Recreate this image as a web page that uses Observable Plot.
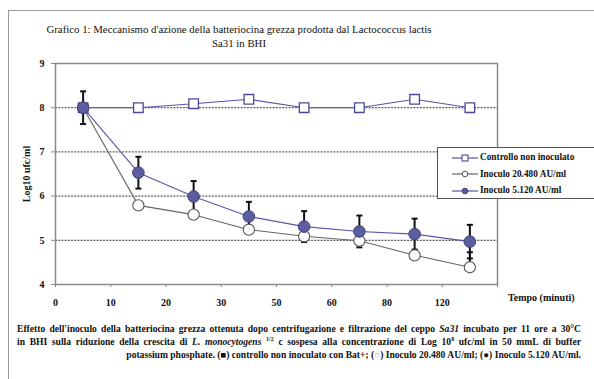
<!DOCTYPE html>
<html>
<head>
<meta charset="utf-8">
<script src="https://cdn.jsdelivr.net/npm/d3@7"></script>
<script src="https://cdn.jsdelivr.net/npm/@observablehq/plot@0.6"></script>
<style>
  html, body { margin: 0; padding: 0; background: #fff; }
  #wrap { position: relative; width: 594px; height: 379px; overflow: hidden; font-family: "Liberation Serif", "Times New Roman", Times, "DejaVu Serif", "Noto Serif", serif; color: #111; }
  #frame { position: absolute; left: 8px; top: 10px; width: 600px; height: 400px; border-left: 1.5px solid #999; border-top: 1.5px solid #999; }
  .title { position: absolute; left: 0; width: 478px; text-align: center; font-size: 10.8px; white-space: nowrap; }
  #chart { position: absolute; left: 0; top: 55px; }
  #xlabel { position: absolute; left: 508px; top: 292px; font-size: 10px; font-weight: bold; white-space: nowrap; }
  #legend { position: absolute; left: 437px; top: 147px; width: 160px; height: 50px; border: 1px solid #555; background: #fff; }
  .lrow { position: absolute; left: 14px; font-size: 9.3px; font-weight: bold; white-space: nowrap; height: 12px; line-height: 12px; }
  .lrow svg { vertical-align: middle; margin-right: 2px; }
  .cap { position: absolute; left: 17px; width: 564px; font-size: 9.6px; font-weight: bold; white-space: nowrap; line-height: 13px; }
  .just { text-align: justify; text-align-last: justify; white-space: normal; }
  .right { text-align: right; }
  sup { font-size: 6px; line-height: 0; vertical-align: 4px; }
</style>
</head>
<body>
<div id="wrap">
  <div id="frame"></div>
  <div class="title" style="top:23px">Grafico 1: Meccanismo d'azione della batteriocina grezza prodotta dal Lactococcus lactis</div>
  <div class="title" style="top:37px">Sa31 in BHI</div>
  <div id="chart"></div>
  <div id="xlabel">Tempo (minuti)</div>
  <div id="legend"></div>
  <div class="cap just" style="top:322px">Effetto dell'inoculo della batteriocina grezza ottenuta dopo centrifugazione e filtrazione del ceppo <i>Sa31</i> incubato per 11 ore a 30°C</div>
  <div class="cap just" style="top:335px">in BHI sulla riduzione della crescita di <i>L. monocytogens</i> <sup>1/2</sup> c sospesa alla concentrazione di Log 10<sup>8</sup> ufc/ml in 50 mmL di buffer</div>
  <div class="cap right" style="top:348px">potassium phosphate. (■) controllo non inoculato con Bat+; (<span style="color:#aaa">○</span>) Inoculo 20.480 AU/ml; (●) Inoculo 5.120 AU/ml.</div>
</div>
<script>
// Category tick labels (x axis, Tempo in minuti)
const xTickLabels = ["0", "10", "20", "30", "50", "60", "80", "120"];
// Log10 ufc/ml for each sampling point (one per category)
const controllo = [8.0, 8.0, 8.09, 8.19, 8.0, 8.0, 8.19, 8.0];
const inoculo20480 = [8.0, 5.79, 5.58, 5.24, 5.09, 4.99, 4.66, 4.39];
const inoculo5120 = [8.0, 6.53, 5.99, 5.54, 5.31, 5.20, 5.14, 4.97];
// error bars
const err5120 = [0.37, 0.36, 0.35, 0.33, 0.35, 0.36, 0.35, 0.38];
const err20480Plus = [0, 0, 0, 0, 0, 0, 0, 0.34];
const seriesNames = ["Controllo non inoculato", "Inoculo 20.480 AU/ml", "Inoculo 5.120 AU/ml"];
const yTicks = [4, 5, 6, 7, 8, 9];
const gridValues = [5, 6, 7, 8];

const serifStack = "'Liberation Serif', 'Times New Roman', Times, 'DejaVu Serif', 'Noto Serif', serif";
const blue = "#5656a6";
const dotFill = "#5b5d9e";
const gray = "#666";

const idx = d3.range(controllo.length);
const rows = idx.map(i => ({
  x: i + 0.5,
  controllo: controllo[i],
  a: inoculo20480[i],
  b: inoculo5120[i],
  eb: err5120[i],
  ea: err20480Plus[i]
}));
const errRows = [
  ...rows.map(r => ({x: r.x, y1: r.b - r.eb, y2: r.b + r.eb})),
  ...rows.filter(r => r.ea > 0).map(r => ({x: r.x, y1: r.a, y2: r.a + r.ea}))
];
const capRows = errRows.flatMap(e => [{x: e.x, y: e.y1}, {x: e.x, y: e.y2}]);
const capSymbol = {draw(ctx) { ctx.moveTo(-3, 0); ctx.lineTo(3, 0); }};

const chart = Plot.plot({
  width: 594,
  height: 265,
  marginTop: 8,
  marginBottom: 36,
  marginLeft: 55,
  marginRight: 97,
  style: {fontFamily: serifStack, fontWeight: "bold", fontSize: "10px", color: "#111", background: "transparent"},
  x: {domain: [0, xTickLabels.length], ticks: d3.range(xTickLabels.length + 1)},
  y: {domain: [4, 9], ticks: yTicks},
  marks: [
    Plot.ruleY(gridValues, {stroke: "#333", strokeDasharray: "2,1.2", strokeWidth: 1}),
    Plot.frame({stroke: "#8a8a8a", strokeWidth: 1.5}),
    Plot.axisX({ticks: d3.range(xTickLabels.length + 1), tickSize: 3, tickPadding: 11, stroke: "#888",
      tickFormat: i => xTickLabels[i] ?? "", label: null, fontWeight: "bold"}),
    Plot.axisY({ticks: yTicks, tickSize: 4, tickPadding: 7, stroke: "#888", tickFormat: d => d,
      label: "Log10 ufc/ml", labelAnchor: "center", labelArrow: "none", labelOffset: 33, fontWeight: "bold"}),
    Plot.line(rows, {x: "x", y: "controllo", stroke: blue, strokeWidth: 1.1}),
    Plot.line(rows, {x: "x", y: "a", stroke: gray, strokeWidth: 1.1}),
    Plot.line(rows, {x: "x", y: "b", stroke: blue, strokeWidth: 1.1}),
    Plot.ruleX(errRows, {x: "x", y1: "y1", y2: "y2", stroke: "#111", strokeWidth: 2}),
    Plot.dot(capRows, {x: "x", y: "y", symbol: capSymbol, stroke: "#111", strokeWidth: 2, r: 3}),
    Plot.dot(rows, {x: "x", y: "controllo", symbol: "square", r: 5.4, fill: "#fff", stroke: "#4a4a96", strokeWidth: 1.3}),
    Plot.dot(rows, {x: "x", y: "a", r: 5.6, fill: "#fff", stroke: "#555", strokeWidth: 1.1}),
    Plot.dot(rows, {x: "x", y: "b", r: 5.8, fill: dotFill, stroke: "#3d3f7c", strokeWidth: 1})
  ]
});
document.getElementById("chart").appendChild(chart);

// Legend
const legend = document.getElementById("legend");
const legendStyles = [
  {line: blue, marker: "square", fill: "#fff", stroke: "#4a4a96"},
  {line: gray, marker: "circle", fill: "#fff", stroke: "#555"},
  {line: blue, marker: "circle", fill: dotFill, stroke: "#3d3f7c"}
];
seriesNames.forEach((name, k) => {
  const s = legendStyles[k];
  const row = document.createElement("div");
  row.className = "lrow";
  row.style.top = (3 + k * 16.5) + "px";
  const m = s.marker === "square"
    ? `<rect x="10" y="2" width="6" height="6" fill="${s.fill}" stroke="${s.stroke}" stroke-width="1.1"/>`
    : `<circle cx="13" cy="5" r="2.8" fill="${s.fill}" stroke="${s.stroke}" stroke-width="1"/>`;
  row.innerHTML = `<svg width="26" height="10"><line x1="0" x2="26" y1="5" y2="5" stroke="${s.line}" stroke-width="1.2"/>${m}</svg>${name}`;
  legend.appendChild(row);
});
</script>
</body>
</html>
